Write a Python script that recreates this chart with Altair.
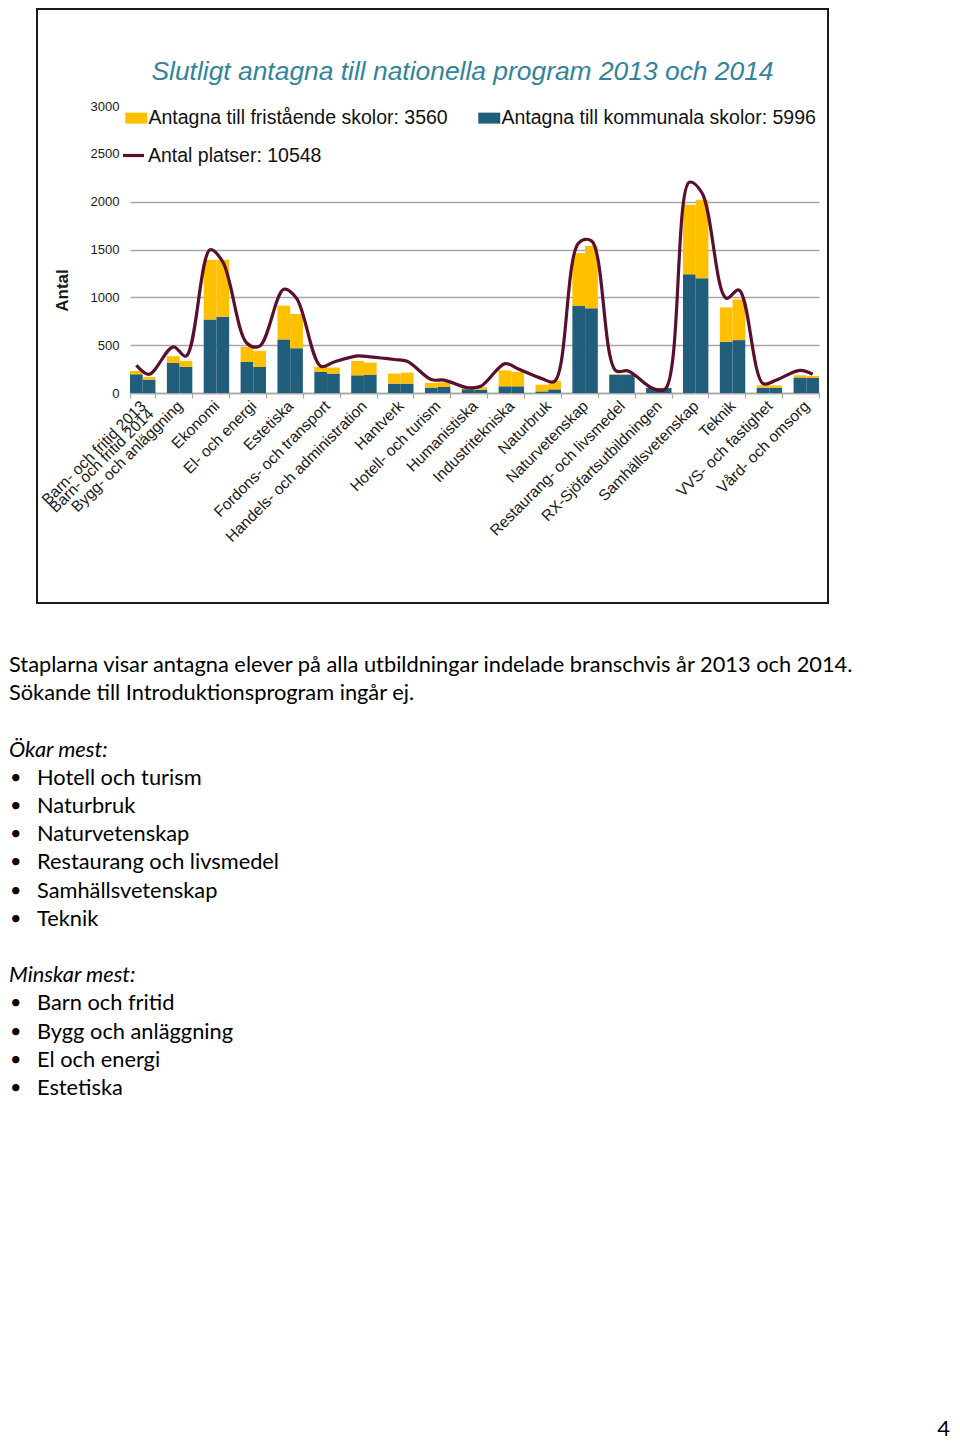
import altair as alt
import pandas as pd

# ---------------- data ----------------
programs = [
    "Barn- och fritid", "Bygg- och anläggning", "Ekonomi", "El- och energi",
    "Estetiska", "Fordons- och transport", "Handels- och administration",
    "Hantverk", "Hotell- och turism", "Humanistiska", "Industritekniska",
    "Naturbruk", "Naturvetenskap", "Restaurang- och livsmedel",
    "RX-Sjöfartsutbildningen", "Samhällsvetenskap", "Teknik",
    "VVS- och fastighet", "Vård- och omsorg",
]
years = ["2013", "2014"]
kommunal_2013 = [196, 315, 769, 325, 560, 220, 185, 98, 56, 40, 70, 17, 909, 192, 52, 1241, 535, 56, 162]
kommunal_2014 = [140, 273, 797, 273, 469, 203, 192, 98, 63, 35, 70, 38, 885, 192, 52, 1199, 553, 56, 157]
fristaende_2013 = [35, 70, 623, 158, 353, 53, 151, 105, 49, 23, 167, 70, 553, 4, 2, 728, 360, 24, 23]
fristaende_2014 = [28, 63, 595, 168, 356, 63, 126, 115, 49, 24, 150, 87, 654, 4, 2, 822, 426, 24, 21]
platser_2013 = [290, 483, 1497, 520, 1084, 280, 388, 350, 140, 55, 307, 150, 1570, 235, 50, 2203, 990, 98, 237]
platser_2014 = [196, 385, 1370, 490, 990, 322, 378, 332, 135, 70, 254, 122, 1590, 230, 40, 2091, 1077, 133, 196]
y_ticks = [0, 500, 1000, 1500, 2000, 2500, 3000]

legend_frist = "Antagna till fristående skolor: 3560"
legend_komm = "Antagna till kommunala skolor: 5996"
legend_platser = "Antal platser: 10548"
title_text = "Slutligt antagna till nationella program 2013 och 2014"
first_label = ["Barn- och fritid 2013", "Barn- och fritid 2014"]

paragraph = [
    "Staplarna visar antagna elever på alla utbildningar indelade branschvis år 2013 och 2014.",
    "Sökande till Introduktionsprogram ingår ej.",
]
okar_header = "Ökar mest:"
okar = ["Hotell och turism", "Naturbruk", "Naturvetenskap",
        "Restaurang och livsmedel", "Samhällsvetenskap", "Teknik"]
minskar_header = "Minskar mest:"
minskar = ["Barn och fritid", "Bygg och anläggning", "El och energi", "Estetiska"]
page_number = "4"

# ---------------- tables ----------------
bar_rows, line_rows = [], []
for i, p in enumerate(programs):
    for j, (yr, k, f, pl) in enumerate([
        ("2013", kommunal_2013[i], fristaende_2013[i], platser_2013[i]),
        ("2014", kommunal_2014[i], fristaende_2014[i], platser_2014[i]),
    ]):
        bar_rows.append({"program": p, "year": yr, "typ": legend_komm, "value": k, "ord": 0})
        bar_rows.append({"program": p, "year": yr, "typ": legend_frist, "value": f, "ord": 1})
        line_rows.append({"program": p, "year": yr, "platser": pl, "idx": 2 * i + j, "serie": legend_platser})
bars_df = pd.DataFrame(bar_rows)
line_df = pd.DataFrame(line_rows)

# ---------------- layout constants ----------------
FONT = "Liberation Sans"
W, H = 791, 594           # framed area
PX0, PX1 = 93, 782        # plot area inside frame (x)
PY0, PY1 = 384, 97        # y pixel for 0 and 3000
TEAL = "#215E7C"
YELLOW = "#FFC000"
MAROON = "#5A0F2F"
GRID = "#A6A6A6"

label_expr = ("datum.value == '%s' ? ['%s', '%s'] : datum.value"
              % (programs[0], first_label[0], first_label[1]))

x_enc = alt.X(
    "program:N", sort=programs,
    scale=alt.Scale(range=[PX0, PX1], paddingInner=0.31, paddingOuter=0),
    axis=alt.Axis(
        title=None, offset=-(H - PY0), labelAngle=-45, labelAlign="right",
        labelBaseline="middle", labelFontSize=15.5, labelFont=FONT,
        labelColor="#1a1a1a", labelPadding=5, labelOverlap=False,
        labelLimit=600, labelExpr=label_expr, labelLineHeight=11,
        tickBand="extent", tickColor=GRID, tickSize=5, tickWidth=1.2,
        domainColor=GRID, domainWidth=1.3, grid=False,
    ),
)
xoff = alt.XOffset("year:N", sort=years, scale=alt.Scale(paddingInner=0, paddingOuter=0))
y_scale = alt.Scale(domain=[0, 3000], range=[PY0, PY1], nice=False, zero=True)
y_axis = alt.Axis(
    values=y_ticks, format="d", title="Antal", offset=-PX0, ticks=False, domain=False,
    labelPadding=11, labelFontSize=13, labelFont=FONT, labelColor="#1a1a1a",
    grid=True, gridColor=GRID, gridWidth=1.3,
    gridOpacity={"condition": {"test": "datum.value > 2000", "value": 0}, "value": 1},
    titleAngle=270, titleX=-63, titleY=281, titleFontSize=17, titleFont=FONT,
    titleFontWeight="bold", titleColor="#1a1a1a", titleAlign="center",
    titleBaseline="alphabetic",
)

bars = alt.Chart(bars_df).mark_bar(strokeWidth=0).encode(
    x=x_enc,
    xOffset=xoff,
    y=alt.Y("value:Q", stack="zero", scale=y_scale, axis=y_axis),
    fill=alt.Fill(
        "typ:N",
        scale=alt.Scale(domain=[legend_frist, legend_komm], range=[YELLOW, TEAL]),
        legend=alt.Legend(
            title=None, orient="none", legendX=84, legendY=99,
            direction="horizontal", symbolType="M-1,-1H3V1H-1Z", symbolSize=121,
            symbolStrokeWidth=0, symbolOpacity=1, labelOffset=8,
            labelFontSize=19.5, labelFont=FONT, labelColor="#111111",
            labelLimit=600, columnPadding=26, padding=0,
        ),
    ),
    order=alt.Order("ord:Q"),
)

line = alt.Chart(line_df).mark_line(interpolate="catmull-rom", strokeWidth=3.2).encode(
    x=x_enc,
    xOffset=xoff,
    y=alt.Y("platser:Q", scale=y_scale, axis=y_axis),
    stroke=alt.Stroke(
        "serie:N",
        scale=alt.Scale(domain=[legend_platser], range=[MAROON]),
        legend=alt.Legend(
            title=None, orient="none", legendX=84, legendY=134,
            symbolType="stroke", symbolSize=441, symbolStrokeWidth=3.2,
            labelOffset=2, labelFontSize=19.5, labelFont=FONT,
            labelColor="#111111", labelLimit=600, padding=0,
        ),
    ),
    order=alt.Order("idx:Q"),
)

panel1 = alt.layer(bars, line).properties(
    width=W, height=H,
    view=alt.ViewBackground(stroke="#1a1a1a", strokeWidth=2, fill="white"),
    title=alt.TitleParams(
        text=title_text, fontSize=26.4, font=FONT, fontStyle="italic",
        fontWeight="normal", color="#31849B", anchor="middle", frame="group",
        offset=-103, dx=30, baseline="bottom",
    ),
)

# ---------------- text panel ----------------
TW, TH = 880, 830
PITCH = 28.2
ROW0 = 60.0
row_scale = alt.Scale(domain=[-ROW0 / PITCH, (TH - ROW0) / PITCH], reverse=True, nice=False, zero=False)

plain_df = pd.DataFrame({"row": [0, 1], "t": paragraph})
head_df = pd.DataFrame({"row": [3, 11], "t": [okar_header, minskar_header]})
items = okar + minskar
item_rows = list(range(4, 4 + len(okar))) + list(range(12, 12 + len(minskar)))
item_df = pd.DataFrame({"row": item_rows, "t": items, "b": ["•"] * len(items)})
page_df = pd.DataFrame({"row": [27.1], "t": [page_number]})

TFONT = "Lato"
TSIZE = 21.8

def ty():
    return alt.Y("row:Q", scale=row_scale, axis=None)

t_plain = alt.Chart(plain_df).mark_text(
    align="left", baseline="middle", font=TFONT, fontSize=TSIZE, color="black"
).encode(x=alt.value(-28), y=ty(), text="t:N")
t_head = alt.Chart(head_df).mark_text(
    align="left", baseline="middle", font=TFONT, fontSize=TSIZE, fontStyle="italic", color="black"
).encode(x=alt.value(-28), y=ty(), text="t:N")
t_bullet = alt.Chart(item_df).mark_text(
    align="left", baseline="middle", font=TFONT, fontSize=TSIZE - 2, color="black"
).encode(x=alt.value(-27), y=ty(), text="b:N")
t_item = alt.Chart(item_df).mark_text(
    align="left", baseline="middle", font=TFONT, fontSize=TSIZE, color="black"
).encode(x=alt.value(0), y=ty(), text="t:N")
t_page = alt.Chart(page_df).mark_text(
    align="right", baseline="middle", font=TFONT, fontSize=22, color="black"
).encode(x=alt.value(913), y=ty(), text="t:N")

panel2 = alt.layer(t_plain, t_head, t_bullet, t_item, t_page).properties(width=TW, height=TH)

chart = alt.vconcat(panel1, panel2, spacing=0).properties(
    padding=0, background="white"
).configure_view(stroke="transparent")

chart.save("out.html", embed_options={"renderer": "svg", "actions": False})
